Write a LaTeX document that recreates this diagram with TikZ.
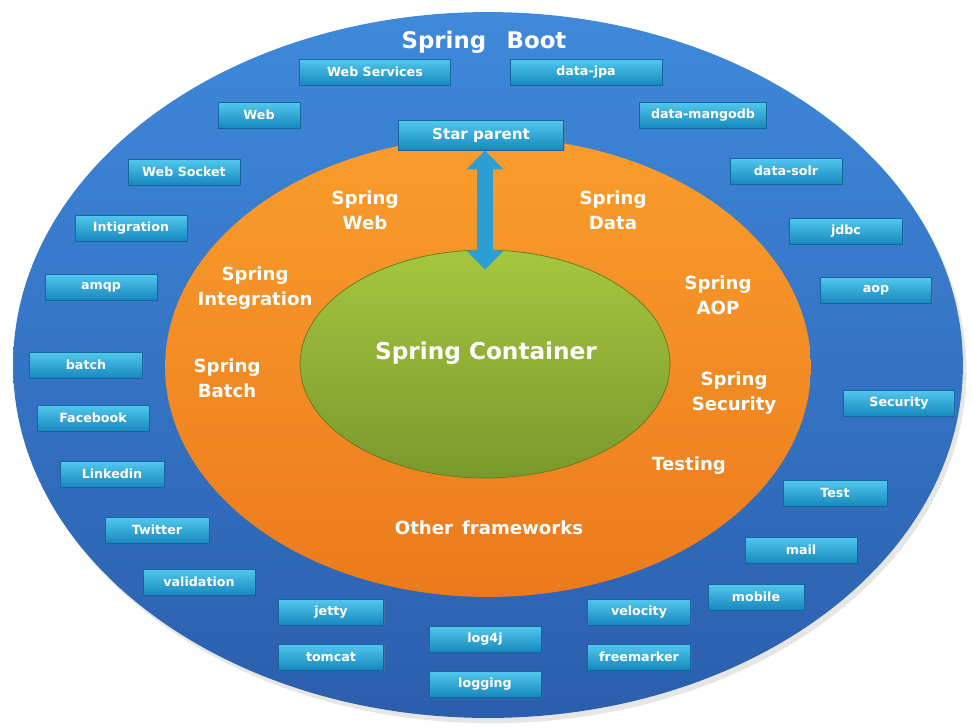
\documentclass[tikz,border=0pt]{standalone}
\usepackage{fontspec}
\setmainfont{DejaVu Sans}
\usepackage{tikz}
\usetikzlibrary{
  positioning,
  shapes.geometric,
  arrows.meta,
  shadows
}

\definecolor{bootTop}{HTML}{3F89DB}
\definecolor{bootBot}{HTML}{2B5EAD}
\definecolor{frameTop}{HTML}{FA9D2C}
\definecolor{frameBot}{HTML}{EC7A1C}
\definecolor{contTop}{HTML}{A6C640}
\definecolor{contBot}{HTML}{7A992C}
\definecolor{libTop}{HTML}{52C8EF}
\definecolor{libBot}{HTML}{1788BD}
\definecolor{libEdge}{HTML}{15669A}
\definecolor{arrowBlue}{HTML}{2B9FD4}

\tikzset{
  lib/.style={rectangle, top color=libTop, bottom color=libBot, draw=libEdge,
    line width=0.5pt, minimum height=0.52cm, inner sep=0pt, text=white,
    font=\fontsize{7.2}{8}\selectfont\bfseries,
    drop shadow={opacity=0.35, shadow xshift=0.6pt, shadow yshift=-0.8pt}},
  area/.style={text=white, align=center, font=\fontsize{10.3}{14}\selectfont\bfseries},
  twoway/.style={line width=9pt, draw=arrowBlue,
    {Triangle[length=10.8pt, width=20.4pt]}-{Triangle[length=10.8pt, width=20.4pt]}}
}

\begin{document}
\begin{tikzpicture}[x=0.02cm, y=-0.02cm]
      \useasboundingbox (0,0) rectangle (972,727);

      % Rings
      \node[ellipse, minimum width=19cm, minimum height=14.12cm, inner sep=0pt,
        top color=bootTop, bottom color=bootBot,
        drop shadow={opacity=0.2, shadow xshift=2pt, shadow yshift=-3pt}] (boot) at (488,365) {};
      \node[ellipse, minimum width=12.92cm, minimum height=9.2cm, inner sep=0pt,
        top color=frameTop, bottom color=frameBot] (frameworks) at (488,367) {};
      \node[ellipse, minimum width=7.4cm, minimum height=4.56cm, inner sep=0pt,
        top color=contTop, bottom color=contBot, draw=contBot!80!black, line width=0.4pt] (container) at (485,364) {};

      % Titles
      \node[text=white, font=\fontsize{13}{15}\selectfont\bfseries] (title) at (484,42) {Spring\hspace{0.9em}Boot};
      \node[text=white, font=\fontsize{13.2}{15}\selectfont\bfseries] (ctitle) at (486,353) {Spring Container};

      % Starter libraries
      \foreach \n/\x/\y/\w/\t in {wsvc/375/72/151/Web Services, jpa/586/72/152/data-jpa,
          web/259/115/82/Web, mongo/703/115/127/data-mangodb,
          socket/184/172/112/Web Socket, solr/786/171/112/data-solr,
          intig/131/228/112/Intigration, jdbc/846/231/113/jdbc,
          amqp/101/287/112/amqp, aop/876/290/111/aop,
          batch/86/365/113/batch, sec/899/403/111/Security,
          fb/93/418/112/Facebook, linkedin/112/474/104/Linkedin,
          test/835/493/104/Test, twitter/157/530/104/Twitter,
          mail/801/550/112/mail, valid/199/582/112/validation,
          mobile/756/597/96/mobile, jetty/331/612/105/jetty,
          velocity/639/612/103/velocity, log4j/485/639/112/log4j,
          tomcat/331/657/105/tomcat, freemarker/639/657/103/freemarker,
          logging/485/684/112/logging} {
        \node[lib, minimum width={\w*0.02cm}] (\n) at (\x,\y) {\t};
      }
      \node[lib, minimum width=3.3cm, minimum height=0.6cm, font=\fontsize{8.6}{10}\selectfont\bfseries] (star) at (481,135) {Star parent};

      % Frameworks
      \node[area] (sweb) at (365,210) {Spring\\Web};
      \node[area] (sdata) at (613,210) {Spring\\Data};
      \node[area] (sinteg) at (255,288) {Spring\\Integration};
      \node[area] (saop) at (718,295) {Spring\\AOP};
      \node[area] (sbatch) at (227,378) {Spring\\Batch};
      \node[area] (ssec) at (734,393) {Spring\\Security};
      \node[area] (testing) at (689,466) {Testing};
      \node[area] (other) at (489,528) {Other\hspace{0.5em}frameworks};

      % Parent <-> container
      \draw[twoway] (star.south -| container.north) -- ([yshift=-0.4cm]container.north);
    \end{tikzpicture}
\end{document}
